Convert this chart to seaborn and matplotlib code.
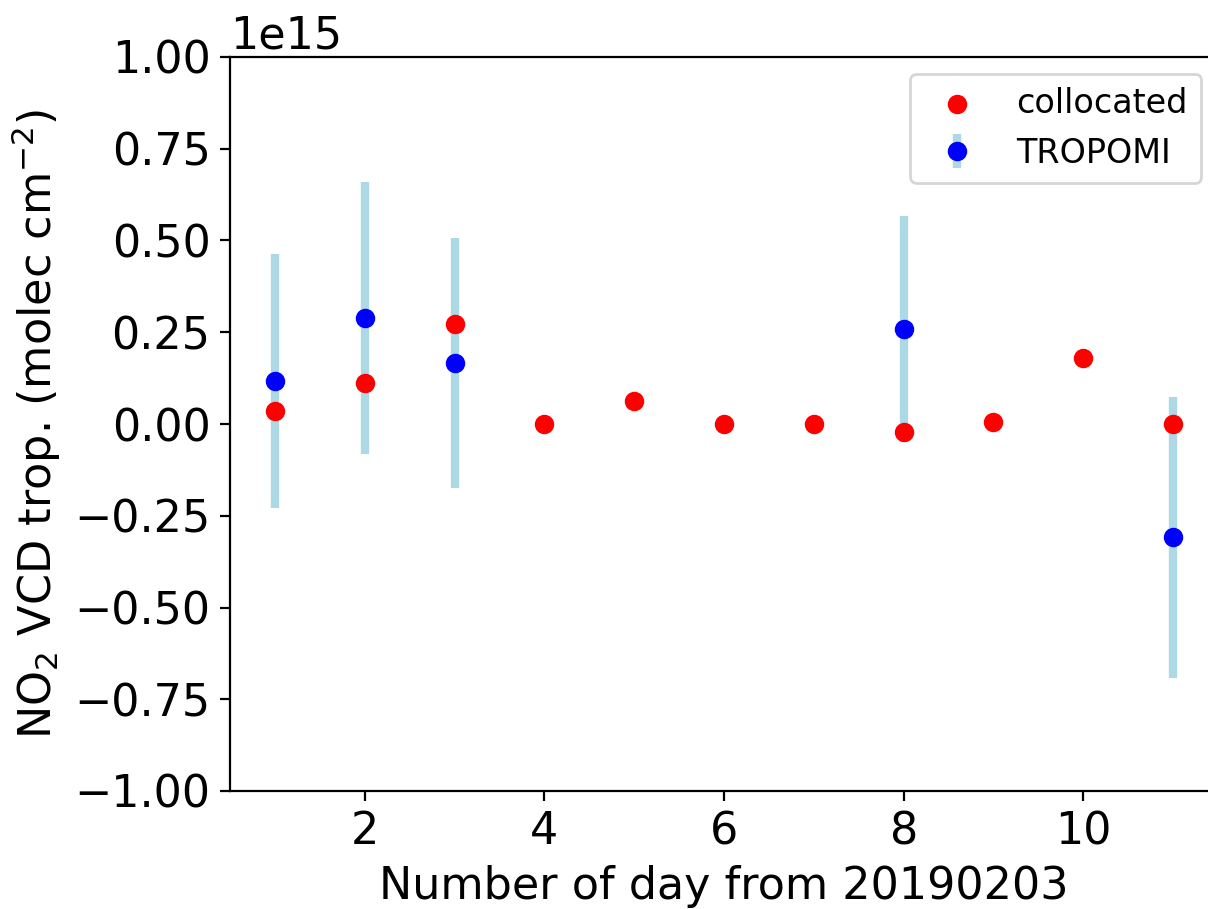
import numpy as np
import matplotlib
matplotlib.use("Agg")
import matplotlib.pyplot as plt
import seaborn as sns
import pandas as pd

SCALE = 1e15
days_coll = [1, 2, 3, 4, 5, 6, 7, 8, 9, 10, 11]
collocated = [0.035, 0.113, 0.273, 0.0, 0.064, 0.0, 0.0, -0.022, 0.005, 0.18, 0.0]
days_trop = [1, 2, 3, 8, 11]
tropomi = [0.117, 0.289, 0.166, 0.259, -0.309]
tropomi_err = [0.346, 0.370, 0.340, 0.307, 0.383]

df_coll = pd.DataFrame({"day": days_coll, "vcd": np.array(collocated) * SCALE})

fig = plt.figure(figsize=(6.04, 4.545), dpi=200)
ax = fig.add_axes([230 / 1208, 118 / 909, 988 / 1208, 734 / 909])

ax.errorbar(days_trop, np.array(tropomi) * SCALE, yerr=np.array(tropomi_err) * SCALE,
            fmt='o', color='blue', ecolor='lightblue', elinewidth=3, label='TROPOMI')
sns.scatterplot(data=df_coll, x="day", y="vcd", color='red', s=36, edgecolor='red',
                linewidth=1, zorder=3, label='collocated', ax=ax)

ax.set_xlim(0.5, 11.5)
ax.set_ylim(-1e15, 1e15)
ax.set_xlabel("Number of day from 20190203", fontsize=16)
ax.set_ylabel(r"NO$_2$ VCD trop. (molec cm$^{-2}$)", fontsize=16)
ax.tick_params(labelsize=16)
ax.yaxis.get_offset_text().set_fontsize(16)
ax.legend(loc='upper right', fontsize=12)

fig.savefig("out.png", dpi=200)
